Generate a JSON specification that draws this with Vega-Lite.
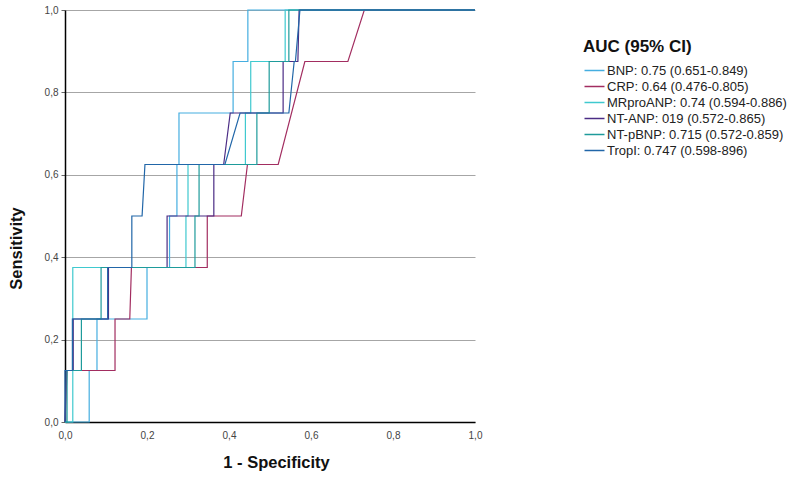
{
  "$schema": "https://vega.github.io/schema/vega-lite/v6.json",
  "autosize": "none",
  "width": 410,
  "height": 412,
  "padding": {"left": 65, "top": 10, "right": 325, "bottom": 61},
  "background": "white",
  "config": {
    "font": "Liberation Sans",
    "view": {"stroke": null}
  },
  "datasets": {
    "roc": [
      {"m": "BNP", "i": 0, "x": 0, "y": 0},
      {"m": "BNP", "i": 1, "x": 0.059, "y": 0},
      {"m": "BNP", "i": 2, "x": 0.059, "y": 0.125},
      {"m": "BNP", "i": 3, "x": 0.078, "y": 0.125},
      {"m": "BNP", "i": 4, "x": 0.078, "y": 0.25},
      {"m": "BNP", "i": 5, "x": 0.2, "y": 0.25},
      {"m": "BNP", "i": 6, "x": 0.2, "y": 0.375},
      {"m": "BNP", "i": 7, "x": 0.255, "y": 0.375},
      {"m": "BNP", "i": 8, "x": 0.255, "y": 0.5},
      {"m": "BNP", "i": 9, "x": 0.273, "y": 0.5},
      {"m": "BNP", "i": 10, "x": 0.273, "y": 0.625},
      {"m": "BNP", "i": 11, "x": 0.278, "y": 0.625},
      {"m": "BNP", "i": 12, "x": 0.278, "y": 0.75},
      {"m": "BNP", "i": 13, "x": 0.41, "y": 0.75},
      {"m": "BNP", "i": 14, "x": 0.41, "y": 0.875},
      {"m": "BNP", "i": 15, "x": 0.446, "y": 0.875},
      {"m": "BNP", "i": 16, "x": 0.446, "y": 1},
      {"m": "BNP", "i": 17, "x": 1, "y": 1},

      {"m": "CRP", "i": 0, "x": 0, "y": 0},
      {"m": "CRP", "i": 1, "x": 0.005, "y": 0.125},
      {"m": "CRP", "i": 2, "x": 0.122, "y": 0.125},
      {"m": "CRP", "i": 3, "x": 0.122, "y": 0.25},
      {"m": "CRP", "i": 4, "x": 0.158, "y": 0.25},
      {"m": "CRP", "i": 5, "x": 0.162, "y": 0.375},
      {"m": "CRP", "i": 6, "x": 0.347, "y": 0.375},
      {"m": "CRP", "i": 7, "x": 0.347, "y": 0.5},
      {"m": "CRP", "i": 8, "x": 0.43, "y": 0.5},
      {"m": "CRP", "i": 9, "x": 0.445, "y": 0.625},
      {"m": "CRP", "i": 10, "x": 0.52, "y": 0.625},
      {"m": "CRP", "i": 11, "x": 0.585, "y": 0.875},
      {"m": "CRP", "i": 12, "x": 0.69, "y": 0.875},
      {"m": "CRP", "i": 13, "x": 0.73, "y": 1},
      {"m": "CRP", "i": 14, "x": 1, "y": 1},

      {"m": "MRproANP", "i": 0, "x": 0, "y": 0},
      {"m": "MRproANP", "i": 1, "x": 0.019, "y": 0},
      {"m": "MRproANP", "i": 2, "x": 0.019, "y": 0.375},
      {"m": "MRproANP", "i": 3, "x": 0.295, "y": 0.375},
      {"m": "MRproANP", "i": 4, "x": 0.295, "y": 0.5},
      {"m": "MRproANP", "i": 5, "x": 0.3, "y": 0.5},
      {"m": "MRproANP", "i": 6, "x": 0.3, "y": 0.625},
      {"m": "MRproANP", "i": 7, "x": 0.44, "y": 0.625},
      {"m": "MRproANP", "i": 8, "x": 0.44, "y": 0.75},
      {"m": "MRproANP", "i": 9, "x": 0.453, "y": 0.75},
      {"m": "MRproANP", "i": 10, "x": 0.453, "y": 0.875},
      {"m": "MRproANP", "i": 11, "x": 0.537, "y": 0.875},
      {"m": "MRproANP", "i": 12, "x": 0.537, "y": 1},
      {"m": "MRproANP", "i": 13, "x": 1, "y": 1},

      {"m": "NT-ANP", "i": 0, "x": 0, "y": 0},
      {"m": "NT-ANP", "i": 1, "x": 0.003, "y": 0.125},
      {"m": "NT-ANP", "i": 2, "x": 0.02, "y": 0.125},
      {"m": "NT-ANP", "i": 3, "x": 0.02, "y": 0.25},
      {"m": "NT-ANP", "i": 4, "x": 0.106, "y": 0.25},
      {"m": "NT-ANP", "i": 5, "x": 0.106, "y": 0.375},
      {"m": "NT-ANP", "i": 6, "x": 0.249, "y": 0.375},
      {"m": "NT-ANP", "i": 7, "x": 0.249, "y": 0.5},
      {"m": "NT-ANP", "i": 8, "x": 0.363, "y": 0.5},
      {"m": "NT-ANP", "i": 9, "x": 0.363, "y": 0.625},
      {"m": "NT-ANP", "i": 10, "x": 0.387, "y": 0.625},
      {"m": "NT-ANP", "i": 11, "x": 0.403, "y": 0.75},
      {"m": "NT-ANP", "i": 12, "x": 0.532, "y": 0.75},
      {"m": "NT-ANP", "i": 13, "x": 0.532, "y": 0.875},
      {"m": "NT-ANP", "i": 14, "x": 0.568, "y": 0.875},
      {"m": "NT-ANP", "i": 15, "x": 0.571, "y": 1},
      {"m": "NT-ANP", "i": 16, "x": 1, "y": 1},

      {"m": "NT-pBNP", "i": 0, "x": 0, "y": 0},
      {"m": "NT-pBNP", "i": 1, "x": 0.005, "y": 0},
      {"m": "NT-pBNP", "i": 2, "x": 0.005, "y": 0.125},
      {"m": "NT-pBNP", "i": 3, "x": 0.04, "y": 0.125},
      {"m": "NT-pBNP", "i": 4, "x": 0.04, "y": 0.25},
      {"m": "NT-pBNP", "i": 5, "x": 0.088, "y": 0.25},
      {"m": "NT-pBNP", "i": 6, "x": 0.088, "y": 0.375},
      {"m": "NT-pBNP", "i": 7, "x": 0.317, "y": 0.375},
      {"m": "NT-pBNP", "i": 8, "x": 0.317, "y": 0.5},
      {"m": "NT-pBNP", "i": 9, "x": 0.327, "y": 0.5},
      {"m": "NT-pBNP", "i": 10, "x": 0.327, "y": 0.625},
      {"m": "NT-pBNP", "i": 11, "x": 0.468, "y": 0.625},
      {"m": "NT-pBNP", "i": 12, "x": 0.468, "y": 0.75},
      {"m": "NT-pBNP", "i": 13, "x": 0.498, "y": 0.75},
      {"m": "NT-pBNP", "i": 14, "x": 0.498, "y": 0.875},
      {"m": "NT-pBNP", "i": 15, "x": 0.546, "y": 0.875},
      {"m": "NT-pBNP", "i": 16, "x": 0.546, "y": 1},
      {"m": "NT-pBNP", "i": 17, "x": 1, "y": 1},

      {"m": "TropI", "i": 0, "x": 0, "y": 0},
      {"m": "TropI", "i": 1, "x": 0, "y": 0.125},
      {"m": "TropI", "i": 2, "x": 0.018, "y": 0.125},
      {"m": "TropI", "i": 3, "x": 0.018, "y": 0.25},
      {"m": "TropI", "i": 4, "x": 0.104, "y": 0.25},
      {"m": "TropI", "i": 5, "x": 0.104, "y": 0.375},
      {"m": "TropI", "i": 6, "x": 0.163, "y": 0.375},
      {"m": "TropI", "i": 7, "x": 0.163, "y": 0.5},
      {"m": "TropI", "i": 8, "x": 0.188, "y": 0.5},
      {"m": "TropI", "i": 9, "x": 0.195, "y": 0.625},
      {"m": "TropI", "i": 10, "x": 0.39, "y": 0.625},
      {"m": "TropI", "i": 11, "x": 0.427, "y": 0.75},
      {"m": "TropI", "i": 12, "x": 0.546, "y": 0.75},
      {"m": "TropI", "i": 13, "x": 0.559, "y": 0.875},
      {"m": "TropI", "i": 14, "x": 0.562, "y": 0.875},
      {"m": "TropI", "i": 15, "x": 0.573, "y": 1},
      {"m": "TropI", "i": 16, "x": 1, "y": 1}
    ],
    "labels": [
      {"m": "BNP", "label": "BNP: 0.75 (0.651-0.849)"},
      {"m": "CRP", "label": "CRP: 0.64 (0.476-0.805)"},
      {"m": "MRproANP", "label": "MRproANP: 0.74 (0.594-0.886)"},
      {"m": "NT-ANP", "label": "NT-ANP: 019 (0.572-0.865)"},
      {"m": "NT-pBNP", "label": "NT-pBNP: 0.715 (0.572-0.859)"},
      {"m": "TropI", "label": "TropI: 0.747 (0.598-896)"}
    ]
  },
  "data": {"name": "roc"},
  "transform": [
    {"lookup": "m", "from": {"data": {"name": "labels"}, "key": "m", "fields": ["label"]}}
  ],
  "mark": {"type": "line", "strokeWidth": 1.2, "interpolate": "linear"},
  "encoding": {
    "x": {
      "field": "x", "type": "quantitative",
      "scale": {"domain": [0, 1], "nice": false, "zero": false},
      "axis": {
        "title": "1 - Specificity",
        "values": [0, 0.2, 0.4, 0.6, 0.8, 1],
        "labelExpr": "replace(format(datum.value, '.1f'), '.', ',')",
        "grid": false, "ticks": false,
        "domainColor": "#000000", "domainWidth": 1.5,
        "labelFont": "Liberation Sans", "labelFontSize": 10, "labelColor": "#444444",
        "labelPadding": 8, "labelFlush": false,
        "titleFont": "Liberation Sans", "titleFontSize": 16.5, "titleFontWeight": "bold",
        "titleColor": "#111111", "titlePadding": 14, "titleX": 211
      }
    },
    "y": {
      "field": "y", "type": "quantitative",
      "scale": {"domain": [0, 1], "nice": false, "zero": false},
      "axis": {
        "title": "Sensitivity",
        "values": [0, 0.2, 0.4, 0.6, 0.8, 1],
        "labelExpr": "replace(format(datum.value, '.1f'), '.', ',')",
        "grid": true, "gridColor": "#a6a6a6", "gridWidth": 1,
        "ticks": true, "tickSize": 4, "tickColor": "#666666",
        "domainColor": "#000000", "domainWidth": 1.5,
        "labelFont": "Liberation Sans", "labelFontSize": 10, "labelColor": "#444444",
        "labelPadding": 3, "labelFlush": false,
        "titleFont": "Liberation Sans", "titleFontSize": 16.5, "titleFontWeight": "bold",
        "titleColor": "#111111", "titleX": -41, "titleY": 238
      }
    },
    "color": {
      "field": "label", "type": "nominal",
      "scale": {
        "domain": ["BNP: 0.75 (0.651-0.849)", "CRP: 0.64 (0.476-0.805)", "MRproANP: 0.74 (0.594-0.886)", "NT-ANP: 019 (0.572-0.865)", "NT-pBNP: 0.715 (0.572-0.859)", "TropI: 0.747 (0.598-896)"],
        "range": ["#45aee0", "#a22d60", "#3fc9cf", "#4b2c85", "#1e9b9b", "#2166a8"]
      },
      "legend": {
        "title": "AUC (95% CI)",
        "orient": "none",
        "legendX": 518,
        "legendY": 29,
        "titleFont": "Liberation Sans", "titleFontSize": 17, "titleFontWeight": "bold",
        "titleColor": "#111111", "titlePadding": 8,
        "labelFont": "Liberation Sans", "labelFontSize": 13, "labelColor": "#222222",
        "labelOffset": 11, "labelLimit": 300,
        "symbolType": "M-1,0L3,0", "symbolSize": 100, "symbolStrokeWidth": 1.5,
        "rowPadding": 2
      }
    },
    "order": {"field": "i", "type": "quantitative"}
  }
}
